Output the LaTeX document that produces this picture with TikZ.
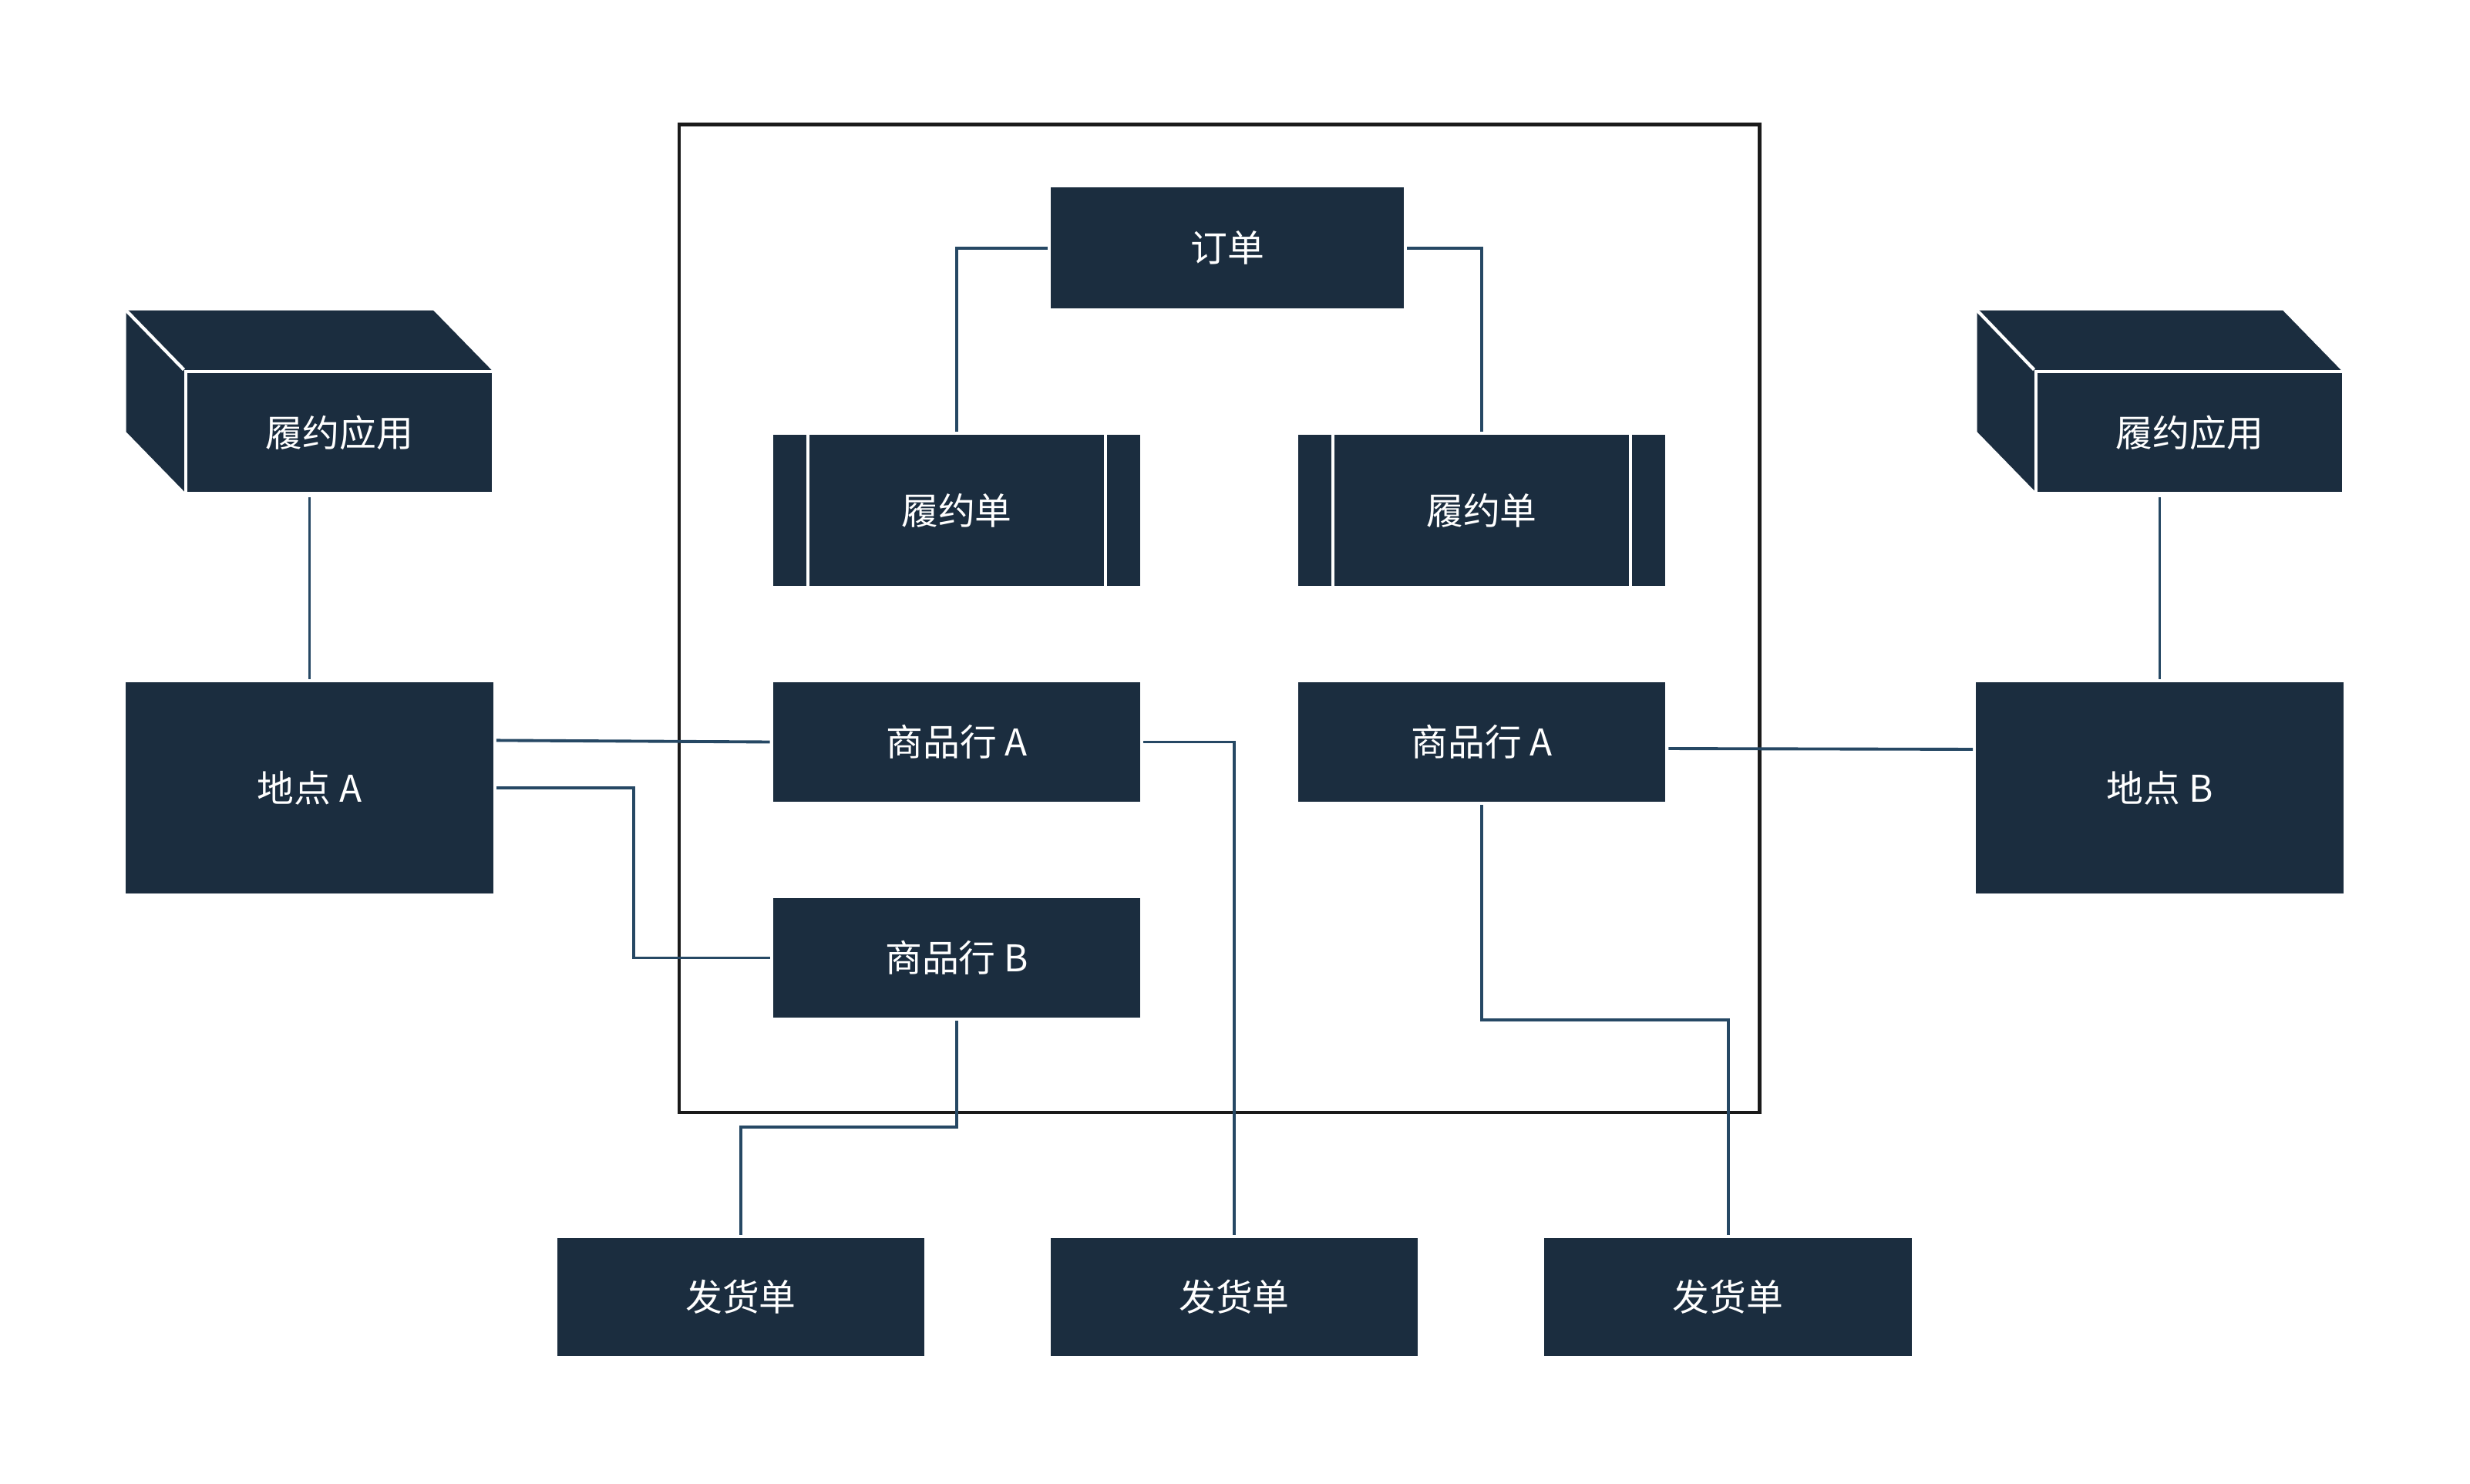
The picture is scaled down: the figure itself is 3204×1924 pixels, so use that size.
\documentclass[tikz,border=0pt]{standalone}
\usepackage{fontspec}
\newfontfamily\cjk{Noto Sans CJK SC}
\definecolor{boxfill}{HTML}{1B2D3F}
\definecolor{linkcol}{HTML}{264864}
\definecolor{framecol}{HTML}{1A1A1A}
\begin{document}
\begin{tikzpicture}[x=0.01cm,y=-0.01cm,
        box/.style={fill=boxfill,text=white,inner sep=0pt,minimum width=4.76cm,minimum height=1.55cm,font=\cjk\fontsize{13.6}{16}\selectfont},
        fulbox/.style={box,minimum height=1.96cm,path picture={
            \draw[white,line width=1.2pt] ([xshift=0.45cm]path picture bounding box.north west) -- ([xshift=0.45cm]path picture bounding box.south west);
            \draw[white,line width=1.2pt] ([xshift=-0.45cm]path picture bounding box.north east) -- ([xshift=-0.45cm]path picture bounding box.south east);}},
        appbox/.style={box,draw=white,line width=1.2pt,minimum width=3.99cm,minimum height=1.58cm},
        link/.style={draw=linkcol,line width=1.1pt,shorten <=1pt,shorten >=1pt}]
        \useasboundingbox (0,0) rectangle (3204,1924);

        \draw[framecol,line width=1.2pt] (880.7,161.4) rectangle (2282.5,1442.6);

        \node[box,minimum width=4.58cm,minimum height=1.57cm] (order) at (1592,321.7) {订单};
        \node[fulbox] (ful1) at (1241,662) {履约单};
        \node[fulbox] (ful2) at (1922,662) {履约单};
        \node[box] (itemA1) at (1241,962.5) {商品行 A};
        \node[box] (itemA2) at (1922,962.5) {商品行 A};
        \node[box] (itemB) at (1241,1242.5) {商品行 B};
        \node[box,minimum height=2.74cm] (placeA) at (401.5,1022) {地点 A};
        \node[box,minimum height=2.74cm] (placeB) at (2801.5,1022) {地点 B};
        \node[box,minimum height=1.53cm] (ship1) at (961,1682.5) {发货单};
        \node[box,minimum height=1.53cm] (ship2) at (1601,1682.5) {发货单};
        \node[box,minimum height=1.53cm] (ship3) at (2241.6,1682.5) {发货单};

        \fill[boxfill] (163.5,402.5) -- (562,402.5) -- (639.6,482) -- (639.6,639.6) -- (241,639.6) -- (163.5,560) -- cycle;
        \node[appbox] (app1) at (440.3,560.8) {履约应用};
        \draw[white,line width=1.2pt] (163.5,402.5) -- (app1.north west);
        \fill[boxfill] (2564.5,402.5) -- (2961,402.5) -- (3038.5,482) -- (3038.5,639.6) -- (2642,639.6) -- (2564.5,560) -- cycle;
        \node[appbox] (app2) at (2840.3,560.8) {履约应用};
        \draw[white,line width=1.2pt] (2564.5,402.5) -- (app2.north west);

        \draw[link] (order.west) -| (ful1.north);
        \draw[link] (order.east) -| (ful2.north);
        \draw[link] (placeA.north |- app1.south) -- (placeA.north);
        \draw[link] (placeB.north |- app2.south) -- (placeB.north);
        \draw[link] ([yshift=0.616cm]placeA.east) -- (itemA1.west);
        \draw[link] (placeA.east) -- ++(182,0) |- (itemB.west);
        \draw[link] (itemA1.east) -| (ship2.north);
        \draw[link] ([yshift=-0.085cm]itemA2.east) -- ([yshift=0.5cm]placeB.west);
        \draw[link] (itemA2.south) -- ++(0,282) -| (ship3.north);
        \draw[link] (itemB.south) -- ++(0,141) -| (ship1.north);
\end{tikzpicture}
\end{document}
